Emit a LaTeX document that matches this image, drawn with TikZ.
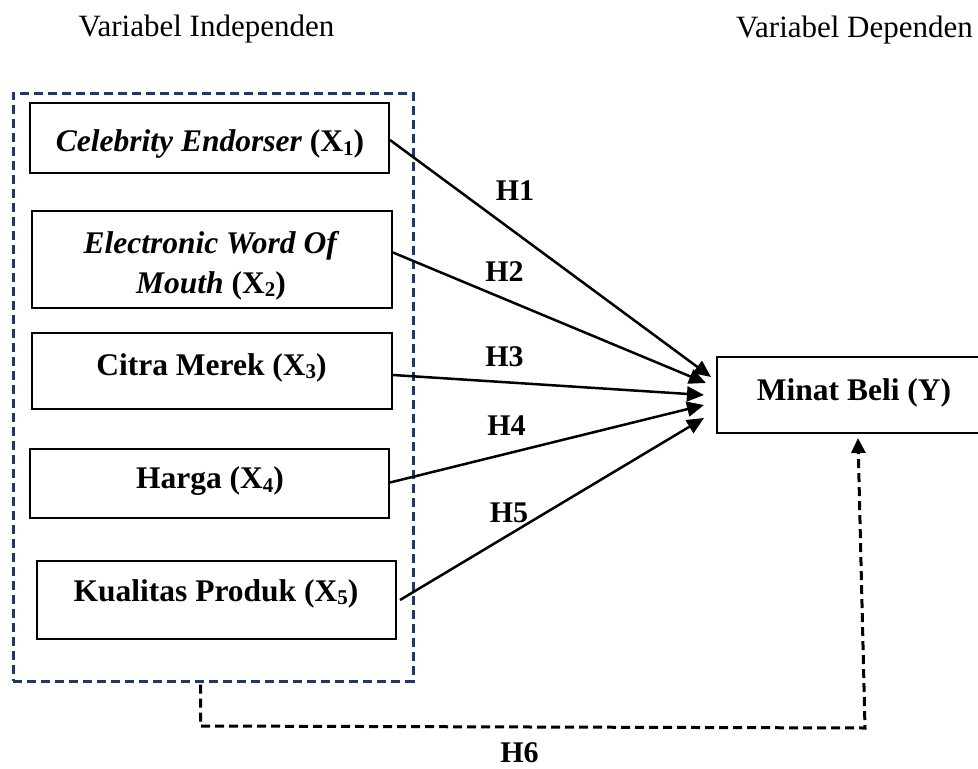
\documentclass[tikz,border=0pt]{standalone}
\usepackage{fontspec}
\setmainfont{Liberation Serif}
\usetikzlibrary{arrows.meta,calc}
\definecolor{navy}{HTML}{1F3864}
\newcommand{\mysub}[1]{\raisebox{-0.12em}{\fontsize{21}{21}\selectfont #1}}
\begin{document}
\begin{tikzpicture}[x=1pt,y=-1pt,
  box/.style={draw, line width=2pt, rectangle, inner sep=0pt},
  txt/.style={anchor=base, inner sep=0pt, font=\fontsize{31.5}{40}\selectfont\bfseries},
  title/.style={anchor=base, inner sep=0pt, font=\fontsize{31}{38}\selectfont},
  hlab/.style={anchor=base, inner sep=0pt, font=\fontsize{30}{36}\selectfont\bfseries},
  arr/.style={line width=2.5pt, -{Triangle[length=17pt,width=15pt]}},
  outerbox/.style={draw=navy, line width=3pt, dash pattern=on 9pt off 5pt, rectangle, inner sep=0pt},
  h6line/.style={draw=black, line width=3pt, dash pattern=on 9pt off 5pt, -{Triangle[length=15pt,width=14pt]}}
]
\useasboundingbox (0,0) rectangle (978,769);

% titles
\node[title] (ti1) at (206.5,36) {Variabel Independen};
\node[title, anchor=base west] (ti2) at (736,37) {Variabel Dependen};

% outer dashed box
\node[outerbox, minimum width=400pt, minimum height=588pt] (outer) at (213,387) {};

% independent boxes
\node[box, minimum width=359pt, minimum height=70pt] (b1) at (209.5,138) {};
\node[txt] (t1) at (210,151.5) {\textit{Celebrity Endorser} (X\mysub{1})};

\node[box, minimum width=360pt, minimum height=97pt] (b2) at (212,259.5) {};
\node[txt] (t2a) at (211.5,253) {\textit{Electronic Word Of}};
\node[txt] (t2b) at (211,293) {\textit{Mouth} (X\mysub{2})};

\node[box, minimum width=360pt, minimum height=76pt] (b3) at (212,371) {};
\node[txt] (t3) at (211.5,375) {Citra Merek (X\mysub{3})};

\node[box, minimum width=359pt, minimum height=69pt] (b4) at (209.5,483.5) {};
\node[txt] (t4) at (210,488.5) {Harga (X\mysub{4})};

\node[box, minimum width=359pt, minimum height=78pt] (b5) at (216.5,600) {};
\node[txt] (t5) at (216,601) {Kualitas Produk (X\mysub{5})};

% dependent box
\node[box, minimum width=273pt, minimum height=76pt] (mb) at (853.5,395) {};
\node[txt] (tmb) at (854,400) {Minat Beli (Y)};

% arrow end points
\coordinate (e1) at ($(mb.west)+(-5,-18)$);
\coordinate (e2) at ($(mb.west)+(-10,-12)$);
\coordinate (e3) at ($(mb.west)+(-12,0)$);
\coordinate (e4) at ($(mb.west)+(-12,10)$);
\coordinate (e5) at ($(mb.west)+(-12,23)$);

\draw[arr] ($(b1.east)+(0,2)$) -- (e1);
\draw[arr] ($(b2.east)+(0,-7)$) -- (e2);
\draw[arr] ($(b3.east)+(0,4)$) -- (e3);
\draw[arr] ($(b4.east)+(0,-1)$) -- (e4);
\draw[arr] ($(b5.east)+(3,0)$) -- (e5);

% labels
\node[hlab] (h1) at (515,200) {H1};
\node[hlab] (h2) at (504.5,281) {H2};
\node[hlab] (h3) at (504.5,366) {H3};
\node[hlab] (h4) at (506.5,435) {H4};
\node[hlab] (h5) at (509,522) {H5};
\node[hlab] (h6) at (519.5,762) {H6};

% H6 dashed connector
\coordinate (h6s) at ($(outer.south)+(-12.5,2)$);
\coordinate (h6c1) at (200.5,726);
\coordinate (h6c2) at (865,728);
\coordinate (h6e) at ($(mb.south)+(4.5,4)$);
\draw[h6line] (h6s) -- (h6c1) -- (h6c2) -- (h6e);
\end{tikzpicture}
\end{document}
